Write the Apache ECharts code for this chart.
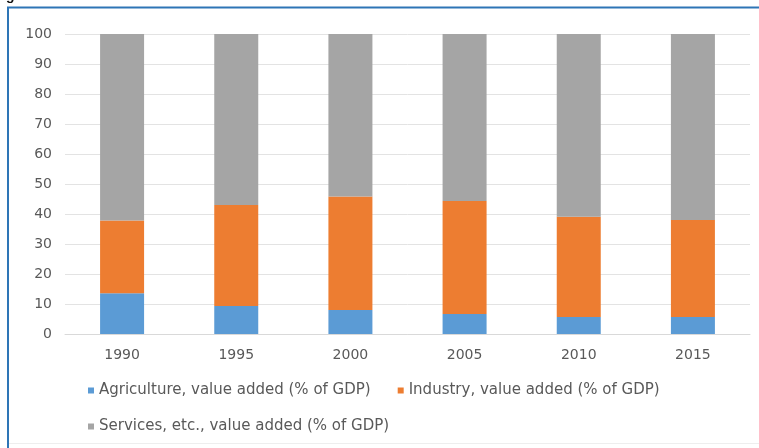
<!DOCTYPE html>
<html>
<head>
<meta charset="utf-8">
<script src="https://cdn.jsdelivr.net/npm/echarts@6/dist/echarts.min.js"></script>
<style>
  html, body { margin: 0; padding: 0; background: #ffffff; }
  #chart { width: 759px; height: 448px; }
</style>
</head>
<body>
<div id="chart"></div>
<script>
// Value added by sector, % of GDP
const years = ['1990', '1995', '2000', '2005', '2010', '2015'];
const agriculture = [13.6, 9.3, 8.0, 6.7, 5.7, 5.7];
const industry = [24.2, 33.7, 37.8, 37.6, 33.4, 32.3];
const services = [62.2, 57.0, 54.2, 55.7, 60.9, 62.0];
const yTicks = { min: 0, max: 100, interval: 10 };

const seriesNames = [
  'Agriculture, value added (% of GDP)',
  'Industry, value added (% of GDP)',
  'Services, etc., value added (% of GDP)'
];
const colors = ['#5b9bd5', '#ed7d31', '#a5a5a5'];
const textColor = '#595959';
const font = 'DejaVu Sans';

const chart = echarts.init(document.getElementById('chart'), null, { renderer: 'canvas' });

function bar(name, data, color) {
  return {
    name: name,
    type: 'bar',
    stack: 'gdp',
    data: data,
    barWidth: 44,
    itemStyle: { color: color },
    emphasis: { disabled: true }
  };
}

chart.setOption({
  animation: false,
  backgroundColor: '#ffffff',
  grid: { left: 65, right: 9, top: 34, bottom: 114, containLabel: false },
  xAxis: {
    type: 'category',
    data: years,
    axisLine: { show: true, lineStyle: { color: '#d9d9d9', width: 1 } },
    axisTick: { show: false },
    axisLabel: { color: textColor, fontFamily: font, fontSize: 14, margin: 14 }
  },
  yAxis: {
    type: 'value',
    min: yTicks.min,
    max: yTicks.max,
    interval: yTicks.interval,
    axisLine: { show: false },
    axisTick: { show: false },
    splitLine: { lineStyle: { color: '#e3e3e3', width: 1 } },
    axisLabel: { color: textColor, fontFamily: font, fontSize: 14, margin: 13 }
  },
  legend: [
    {
      data: [seriesNames[0], seriesNames[1]],
      left: 83,
      top: 378,
      icon: 'rect',
      itemWidth: 6,
      itemHeight: 6,
      itemGap: 27,
      textStyle: { color: textColor, fontFamily: font, fontSize: 15 },
      selectedMode: false
    },
    {
      data: [seriesNames[2]],
      left: 83,
      top: 414,
      icon: 'rect',
      itemWidth: 6,
      itemHeight: 6,
      textStyle: { color: textColor, fontFamily: font, fontSize: 15 },
      selectedMode: false
    }
  ],
  graphic: [
    {
      type: 'polyline',
      shape: { points: [[8, 448], [8, 7.5], [759, 7.5]] },
      style: { stroke: '#2e75b6', lineWidth: 2, fill: null },
      silent: true
    },
    {
      type: 'line',
      shape: { x1: 9, y1: 443.5, x2: 759, y2: 443.5 },
      style: { stroke: '#eeeeee', lineWidth: 1 },
      silent: true
    },
    {
      type: 'text',
      left: 6,
      top: -11,
      style: { text: 'g', font: 'bold 14px "Liberation Sans"', fill: '#111111' },
      silent: true
    }
  ],
  series: [
    bar(seriesNames[0], agriculture, colors[0]),
    bar(seriesNames[1], industry, colors[1]),
    bar(seriesNames[2], services, colors[2])
  ]
});
</script>
</body>
</html>
